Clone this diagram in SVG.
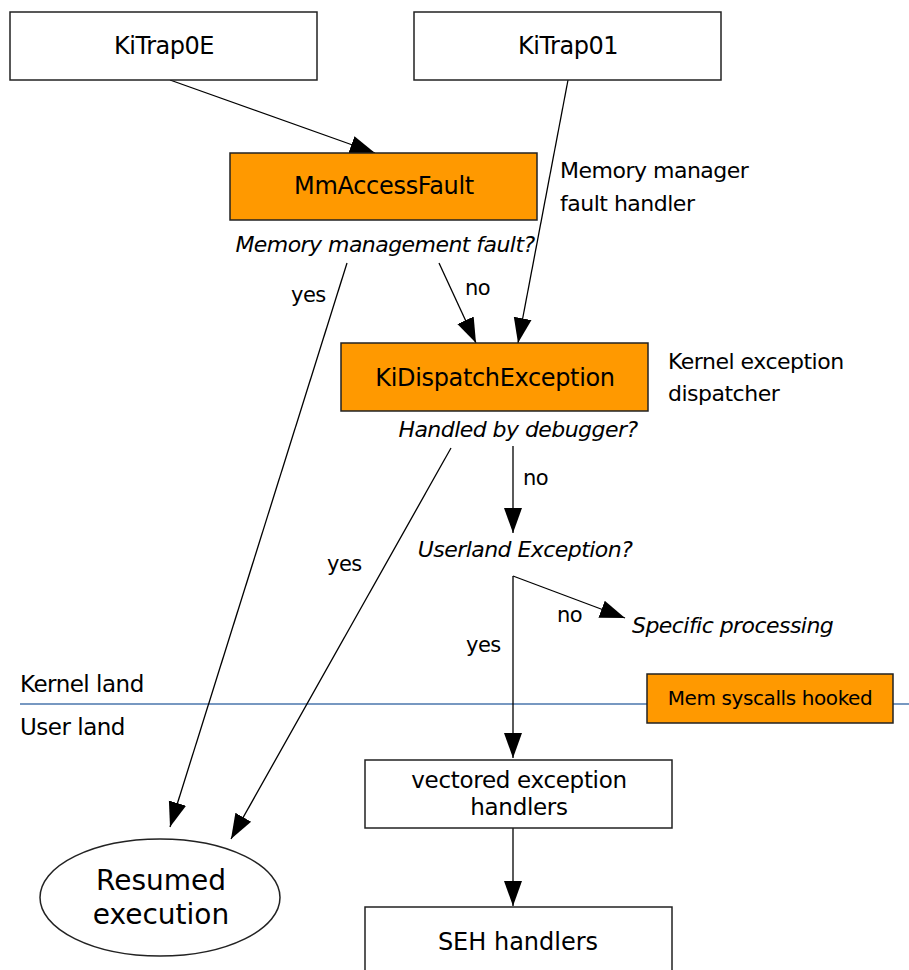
<svg xmlns="http://www.w3.org/2000/svg" width="909" height="970" viewBox="0 0 909 970">
  <style>
    text { font-family: "DejaVu Sans", "Liberation Sans", sans-serif; fill: #000; }
    .box { fill: #fff; stroke: #222; stroke-width: 1.5; }
    .hot { fill: #ff9900; stroke: #222; stroke-width: 1.5; }
    .node { font-size: 24px; text-anchor: middle; letter-spacing: -0.5px; }
    .q { font-size: 22px; font-style: italic; letter-spacing: -0.55px; }
    .lbl { font-size: 21px; letter-spacing: -0.5px; }
    .note { font-size: 22px; letter-spacing: -0.5px; }
    .land { font-size: 23px; letter-spacing: -0.5px; }
    .edge { fill: none; stroke: #000; stroke-width: 1.3; }
  </style>
  <defs>
    <marker id="arrow" markerUnits="userSpaceOnUse" markerWidth="26" markerHeight="20" refX="25" refY="10" orient="auto">
      <path d="M0,1 L25,10 L0,19 z" fill="#000"/>
    </marker>
  </defs>

  <rect width="909" height="970" fill="#fff"/>

  <!-- kernel / user boundary -->
  <g id="boundary">
    <line x1="20" y1="704" x2="909" y2="704" stroke="#4a76ad" stroke-width="1.5"/>
    <text class="land" x="20" y="692">Kernel land</text>
    <text class="land" x="20" y="735">User land</text>
  </g>

  <g id="connectors">
    <line class="edge" x1="170" y1="80" x2="375" y2="153" marker-end="url(#arrow)"/>
    <line class="edge" x1="568" y1="80" x2="518" y2="343" marker-end="url(#arrow)"/>
    <line class="edge" x1="439" y1="263" x2="476" y2="343" marker-end="url(#arrow)"/>
    <line class="edge" x1="347" y1="263" x2="170" y2="827" marker-end="url(#arrow)"/>
    <line class="edge" x1="451" y1="448" x2="231" y2="839" marker-end="url(#arrow)"/>
    <line class="edge" x1="513" y1="446" x2="513" y2="533" marker-end="url(#arrow)"/>
    <line class="edge" x1="513" y1="576" x2="625" y2="618" marker-end="url(#arrow)"/>
    <line class="edge" x1="513" y1="576" x2="513" y2="758" marker-end="url(#arrow)"/>
    <line class="edge" x1="513" y1="828" x2="513" y2="906" marker-end="url(#arrow)"/>
    <text class="lbl" x="291" y="302">yes</text>
    <text class="lbl" x="465" y="295">no</text>
    <text class="lbl" x="523" y="485">no</text>
    <text class="lbl" x="327" y="571">yes</text>
    <text class="lbl" x="557" y="622">no</text>
    <text class="lbl" x="466" y="652">yes</text>
  </g>

  <g id="kitrap0e">
    <rect class="box" x="10" y="12" width="307" height="68"/>
    <text class="node" x="164" y="54">KiTrap0E</text>
  </g>

  <g id="kitrap01">
    <rect class="box" x="414" y="12" width="307" height="68"/>
    <text class="node" x="568" y="54">KiTrap01</text>
  </g>

  <g id="mmaccessfault">
    <rect class="hot" x="230" y="153" width="307" height="67"/>
    <text class="node" x="384" y="194" style="letter-spacing:-0.3px">MmAccessFault</text>
    <text class="q" x="385" y="252" text-anchor="middle">Memory management fault?</text>
  </g>

  <g id="mm-note">
    <text class="note" x="560" y="178">Memory manager</text>
    <text class="note" x="560" y="211">fault handler</text>
  </g>

  <g id="kidispatchexception">
    <rect class="hot" x="341" y="343" width="307" height="68"/>
    <text class="node" x="495" y="386" style="letter-spacing:-0.35px">KiDispatchException</text>
    <text class="q" x="518" y="437" text-anchor="middle">Handled by debugger?</text>
  </g>

  <g id="dispatcher-note">
    <text class="note" x="668" y="369">Kernel exception</text>
    <text class="note" x="668" y="401">dispatcher</text>
  </g>

  <g id="userland-question">
    <text class="q" x="525" y="557" text-anchor="middle">Userland Exception?</text>
  </g>

  <g id="specific-processing">
    <text class="q" x="632" y="633">Specific processing</text>
  </g>

  <g id="mem-syscalls">
    <rect class="hot" x="647" y="674" width="246" height="49"/>
    <text x="770" y="705" font-size="20" text-anchor="middle" letter-spacing="-0.4">Mem syscalls hooked</text>
  </g>

  <g id="vectored">
    <rect class="box" x="365" y="760" width="307" height="68"/>
    <text class="node" x="519" y="788" style="font-size:23px;letter-spacing:-0.3px">vectored exception</text>
    <text class="node" x="519" y="815" style="font-size:23px;letter-spacing:-0.3px">handlers</text>
  </g>

  <g id="seh">
    <rect class="box" x="365" y="907" width="307" height="80"/>
    <text class="node" x="518" y="950" style="letter-spacing:0">SEH handlers</text>
  </g>

  <g id="resumed">
    <ellipse cx="160" cy="897.5" rx="120" ry="58.5" fill="#fff" stroke="#222" stroke-width="1.5"/>
    <text x="161" y="890" font-size="28" text-anchor="middle">Resumed</text>
    <text x="161" y="924" font-size="28" text-anchor="middle">execution</text>
  </g>
</svg>
